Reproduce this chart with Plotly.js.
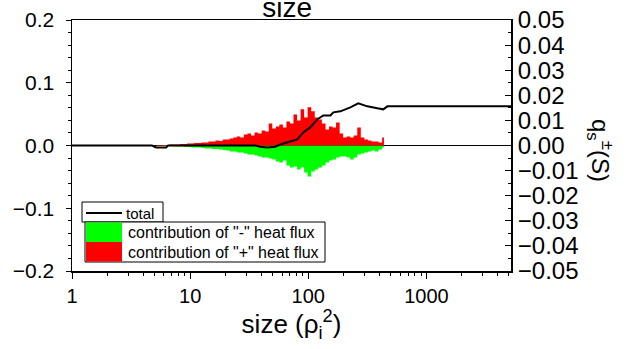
<!DOCTYPE html>
<html>
<head>
<meta charset="utf-8">
<script src="https://cdn.plot.ly/plotly-3.0.1.min.js"></script>
<style>html,body{margin:0;padding:0;background:#fff;}#chart{width:629px;height:349px;}</style>
</head>
<body>
<div id="chart"></div>
<script>
// bin centres (size, rho_i^2)
const sizes = [5.25, 5.62, 6.03, 6.46, 6.92, 7.41, 7.94, 8.51, 9.12, 9.77,
  10.5, 11.2, 12.0, 12.9, 13.8, 14.8, 15.8, 17.0, 18.2, 19.5,
  20.9, 22.4, 24.0, 25.7, 27.5, 29.5, 31.6, 33.9, 36.3, 38.9,
  41.7, 44.7, 47.9, 51.3, 55.0, 58.9, 63.1, 67.6, 72.4, 77.6,
  83.2, 89.1, 95.5, 102, 110, 117, 126, 135, 145, 155,
  166, 178, 191, 204, 219, 234, 251, 269, 288, 309,
  331, 355, 380, 407, 437];
// contribution of "+" heat flux (right axis units)
const plusFlux = [0.0002, 0.0002, 0.0002, 0.0002, 0.0004, 0.0004, 0.0004, 0.0006, 0.0006, 0.0008,
  0.0008, 0.0010, 0.0010, 0.0012, 0.0012, 0.0016, 0.0016, 0.0020, 0.0018, 0.0024,
  0.0024, 0.0028, 0.0032, 0.0036, 0.0032, 0.0044, 0.0048, 0.0040, 0.0052, 0.0048,
  0.0060, 0.0056, 0.0088, 0.0068, 0.0076, 0.0084, 0.0072, 0.0096, 0.0088, 0.0124,
  0.0100, 0.0144, 0.0112, 0.0152, 0.0136, 0.0112, 0.0104, 0.0088, 0.0064, 0.0076,
  0.0072, 0.0092, 0.0048, 0.0032, 0.0036, 0.0032, 0.0040, 0.0072, 0.0032, 0.0024,
  0.0020, 0.0016, 0.0016, 0.0012, 0.0032];
// contribution of "-" heat flux (right axis units)
const minusFlux = [-0.0001, -0.0001, -0.0002, -0.0002, -0.0003, -0.0004, -0.0004, -0.0004, -0.0006, -0.0006,
  -0.0008, -0.0008, -0.0008, -0.0010, -0.0012, -0.0012, -0.0014, -0.0014, -0.0016, -0.0018,
  -0.0020, -0.0024, -0.0024, -0.0028, -0.0028, -0.0032, -0.0036, -0.0036, -0.0040, -0.0044,
  -0.0048, -0.0048, -0.0052, -0.0056, -0.0064, -0.0068, -0.0060, -0.0080, -0.0088, -0.0084,
  -0.0096, -0.0088, -0.0108, -0.0124, -0.0104, -0.0096, -0.0088, -0.0080, -0.0068, -0.0060,
  -0.0056, -0.0048, -0.0044, -0.0044, -0.0048, -0.0056, -0.0048, -0.0036, -0.0032, -0.0028,
  -0.0024, -0.0020, -0.0024, -0.0016, -0.0008];
// total (left axis units)
const totalSize = [1, 4.76, 5.15, 6.26, 6.51, 35.6, 39.2, 45.0, 52.5, 57.9, 70.4, 80.7, 90.7, 104, 119,
  134, 154, 163, 187, 227, 265, 316, 384, 432, 467, 5200];
const totalValue = [0, 0, -0.003, -0.003, 0, 0, -0.002, -0.003, -0.002, 0.0016, 0.0064, 0.0096, 0.0208, 0.0288, 0.0416,
  0.048, 0.048, 0.0528, 0.0544, 0.0608, 0.0672, 0.0624, 0.0592, 0.0576, 0.0624, 0.0624];

const legendNames = ['total', 'contribution of "-" heat flux', 'contribution of "+" heat flux'];

const FONT = 'Liberation Sans, Arial, Helvetica, sans-serif';

const traces = [
  {x: sizes, y: minusFlux, type: 'scatter', mode: 'lines', name: legendNames[1],
   line: {shape: 'hvh', width: 0, color: '#00ff00'}, fill: 'tozeroy', fillcolor: '#00ff00',
   xaxis: 'x', yaxis: 'y', showlegend: false, hoverinfo: 'skip'},
  {x: sizes, y: plusFlux, type: 'scatter', mode: 'lines', name: legendNames[2],
   line: {shape: 'hvh', width: 0, color: '#ff0000'}, fill: 'tozeroy', fillcolor: '#ff0000',
   xaxis: 'x', yaxis: 'y', showlegend: false, hoverinfo: 'skip'},
  {x: totalSize, y: totalValue, type: 'scatter', mode: 'lines', name: legendNames[0],
   line: {width: 2, color: '#000000'}, xaxis: 'x', yaxis: 'y2', showlegend: false}
];

const X0 = 72, X1 = 511, Y0 = 20, Y1 = 271;
const px = v => (v - X0) / (X1 - X0);
const py = v => (Y1 - v) / (Y1 - Y0);

const layout = {
  width: 629, height: 349,
  margin: {l: X0, r: 629 - X1, t: Y0, b: 349 - Y1, pad: 0},
  paper_bgcolor: '#ffffff', plot_bgcolor: '#ffffff',
  font: {family: FONT, color: '#000000'},
  showlegend: false,
  title: {text: 'size', font: {family: FONT, size: 28, color: '#000'},
          x: 0.49, xref: 'paper', xanchor: 'center', y: 0.951, yref: 'container', yanchor: 'bottom'},
  xaxis: {
    type: 'log', range: [0, 3.716], showgrid: false, zeroline: false,
    showline: true, linecolor: '#000', linewidth: 1.5, mirror: true,
    ticks: 'outside', ticklen: 6, tickwidth: 1, tickcolor: '#000', dtick: 1,
    tickfont: {family: FONT, size: 20},
    minor: {ticks: 'outside', ticklen: 3, dtick: 'D1', tickcolor: '#000', showgrid: false},
    title: {text: 'size (ρ<sub>i</sub><sup>2</sup>)', font: {family: FONT, size: 26}, standoff: 8}
  },
  xaxis2: {
    type: 'log', range: [0, 3.716], overlaying: 'x', side: 'top', showgrid: false, zeroline: false,
    showline: false, ticks: 'inside', ticklen: 6, tickcolor: '#000', dtick: 1, showticklabels: false,
    minor: {ticks: 'inside', ticklen: 3, dtick: 'D1', tickcolor: '#000', showgrid: false}
  },
  yaxis: {
    range: [-0.05, 0.05], side: 'right', showgrid: false,
    zeroline: true, zerolinecolor: '#000', zerolinewidth: 1,
    showline: true, linecolor: '#000', linewidth: 2, mirror: false,
    ticks: 'inside', ticklen: 6, tickcolor: '#000', dtick: 0.01, tickformat: '.2f',
    tickfont: {family: FONT, size: 24},
    minor: {ticks: 'inside', ticklen: 3, dtick: 0.005, tickcolor: '#000', showgrid: false}
  },
  yaxis2: {
    range: [-0.2, 0.2], side: 'left', overlaying: 'y', showgrid: false, zeroline: false,
    showline: true, linecolor: '#000', linewidth: 1.5,
    ticks: 'outside', ticklen: 5, tickcolor: '#000', dtick: 0.1, tickformat: '.1f',
    ticklabelstandoff: 7,
    tickfont: {family: FONT, size: 21},
    minor: {ticks: 'outside', ticklen: 3, dtick: 0.02, tickcolor: '#000', showgrid: false}
  },
  shapes: [
    {type: 'rect', xref: 'paper', yref: 'paper', x0: px(82), x1: px(163), y0: py(222), y1: py(202),
     line: {color: '#000', width: 1}, fillcolor: '#ffffff'},
    {type: 'line', xref: 'paper', yref: 'paper', x0: px(86), x1: px(122), y0: py(213), y1: py(213),
     line: {color: '#000', width: 2}},
    {type: 'rect', xref: 'paper', yref: 'paper', x0: px(85), x1: px(325), y0: py(262), y1: py(222),
     line: {color: '#000', width: 1}, fillcolor: '#ffffff'},
    {type: 'rect', xref: 'paper', yref: 'paper', x0: px(86), x1: px(122), y0: py(242), y1: py(222.5),
     line: {width: 0}, fillcolor: '#00ff00'},
    {type: 'rect', xref: 'paper', yref: 'paper', x0: px(86), x1: px(122), y0: py(261.5), y1: py(242),
     line: {width: 0}, fillcolor: '#ff0000'}
  ],
  annotations: [
    {text: legendNames[0], xref: 'paper', yref: 'paper', x: px(124), y: py(213), xanchor: 'left', yanchor: 'middle',
     showarrow: false, font: {family: FONT, size: 15, color: '#000'}},
    {text: legendNames[1], xref: 'paper', yref: 'paper', x: px(126), y: py(232), xanchor: 'left', yanchor: 'middle',
     showarrow: false, font: {family: FONT, size: 16, color: '#000'}},
    {text: legendNames[2], xref: 'paper', yref: 'paper', x: px(126), y: py(252), xanchor: 'left', yanchor: 'middle',
     showarrow: false, font: {family: FONT, size: 16, color: '#000'}},
    {text: 'q<sub>s</sub><sup>±</sup>(S)', xref: 'paper', yref: 'paper', x: px(600), y: py(150),
     xanchor: 'center', yanchor: 'middle', textangle: 90, showarrow: false,
     font: {family: FONT, size: 24, color: '#000'}}
  ]
};

Plotly.newPlot('chart', traces, layout, {displayModeBar: false, staticPlot: true});
</script>
</body>
</html>
